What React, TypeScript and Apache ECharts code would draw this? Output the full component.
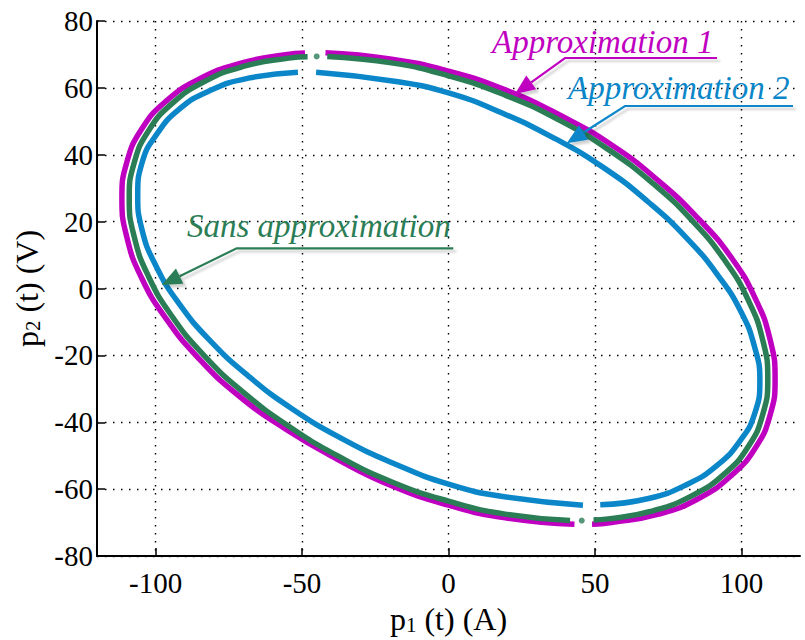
import React, { useEffect, useRef } from "react";
import * as echarts from "echarts";

// ---- data ----
const xTickValues = [-100, -50, 0, 50, 100];

// Approximation 1 (magenta): arc A runs from the top gap clockwise to the bottom gap,
// arc B from the bottom gap on round to the top gap.
const approx1ArcA: number[][] = [
  [-42, 70.5], [-19.4, 68.6], [0, 65], [19.4, 59.4], [38.1, 51.8], [55.7, 42.9], [71.7, 32.2],
  [85.4, 20.8], [96.6, 9.2], [104.8, -3.1], [109.8, -15.3], [111.5, -27], [109.8, -37.8],
  [104.8, -47.6], [96.6, -55.9], [85.4, -62.8], [71.7, -67.5], [55.7, -70], [49, -70.5],
];
const approx1ArcB: number[][] = [
  [43, -70.5], [19.4, -68.6], [0, -64.8], [-19.4, -59], [-38.1, -51], [-55.7, -42], [-71.7, -32],
  [-85.4, -20.8], [-96.6, -8.8], [-104.8, 3.2], [-109.8, 15.3], [-111.5, 27], [-109.8, 37.8],
  [-104.8, 47.6], [-96.6, 55.9], [-85.4, 62.5], [-71.7, 67.2], [-55.7, 69.9], [-49, 70.4],
];

// Sans approximation (green)
const sansArcA: number[][] = [
  [-41.4, 69.4], [-18.9, 67.4], [0, 63.6], [18.9, 58], [37.3, 50.6], [54.5, 41.6], [70.1, 31.2],
  [83.5, 20], [94.4, 8.3], [102.4, -3.6], [107.3, -15.5], [109, -27], [107.3, -37.6],
  [102.4, -47.2], [94.4, -55.3], [83.5, -61.8], [70.1, -66.4], [54.5, -68.9], [49.5, -69.2],
];
const sansArcB: number[][] = [
  [41.5, -69.4], [18.9, -67.4], [0, -63.6], [-18.9, -58], [-37.3, -50.3], [-54.5, -41.2],
  [-70.1, -31], [-83.5, -20], [-94.4, -8.3], [-102.4, 3.6], [-107.3, 15.5], [-109, 27],
  [-107.3, 37.6], [-102.4, 47.2], [-94.4, 55.3], [-83.5, 61.8], [-70.1, 66.4], [-54.5, 68.9],
  [-48.1, 69.3],
];
const sansGapDots: number[][] = [[-45, 69.4], [45.5, -69.4]];

// Approximation 2 (blue)
const approx2ArcA: number[][] = [
  [-45.2, 64.7], [-18.5, 62], [0, 58.5], [18.5, 52.4], [36.4, 44.8], [53.2, 36], [68.3, 25.8],
  [81.4, 15], [92.1, 3.8], [99.9, -7], [104.5, -17.5], [106.3, -27.5], [104.5, -37.5],
  [99.6, -45.5], [91.8, -52.8], [81.4, -58.6], [68.3, -62.8], [51.8, -64.7],
];
const approx2ArcB: number[][] = [
  [45.9, -64.8], [18.5, -62.2], [0, -58.5], [-18.5, -52.4], [-36.4, -44.9], [-53.2, -36.1],
  [-68.3, -26.2], [-81.4, -15.6], [-92.1, -4.4], [-99.9, 6.8], [-104.7, 17.8], [-106.1, 28],
  [-104.5, 38], [-99.7, 46], [-92.1, 53.5], [-81.4, 59.2], [-68.3, 62.9], [-51.4, 64.7],
];

const MAGENTA = "#C000C0";
const GREEN = "#2B7D56";
const BLUE = "#0B87C9";
const FONT = "Liberation Serif";

function arc(data: number[][], color: string) {
  return {
    type: "line",
    data,
    smooth: true,
    symbol: "none",
    lineStyle: { color, width: 5.5 },
    z: 2,
  };
}

const shadow = {
  shadowColor: "rgba(0,0,0,0.18)",
  shadowBlur: 2,
  shadowOffsetX: 3,
  shadowOffsetY: 3,
};

function annotation(
  color: string,
  text: string,
  tx: number,
  ty: number,
  ulx1: number,
  ulx2: number,
  uly: number,
  tipX: number,
  tipY: number
) {
  const dx = tipX - ulx1;
  const dy = tipY - uly;
  const len = Math.sqrt(dx * dx + dy * dy);
  const ux = dx / len;
  const uy = dy / len;
  const headLen = 20;
  const hw = 8.5;
  const bx = tipX - ux * headLen;
  const by = tipY - uy * headLen;
  const px = -uy;
  const py = ux;
  return [
    {
      type: "text",
      x: tx,
      y: ty,
      style: {
        text,
        fontSize: 33,
        fontStyle: "italic",
        fontFamily: FONT,
        fill: color,
        verticalAlign: "middle",
        align: "left",
      },
      z: 10,
    },
    {
      type: "polyline",
      shape: { points: [[ulx2, uly], [ulx1, uly], [bx, by]] },
      style: { stroke: color, lineWidth: 2.2, fill: null, ...shadow },
      z: 10,
    },
    {
      type: "polygon",
      shape: {
        points: [
          [tipX, tipY],
          [bx + px * hw, by + py * hw],
          [bx - px * hw, by - py * hw],
        ],
      },
      style: { fill: color, ...shadow },
      z: 10,
    },
  ];
}

export default function App() {
  const ref = useRef<HTMLDivElement>(null);

  useEffect(() => {
    if (!ref.current) return;
    const chart = echarts.init(ref.current, null, { renderer: "svg" });
    const axisFont = { fontFamily: FONT, fontSize: 29, color: "#000" };
    const splitStyle = { color: "#000", width: 1.4, type: [1.5, 6.5] };
    const nameRich = {
      a: { fontFamily: FONT, fontSize: 32, color: "#000", lineHeight: 35, verticalAlign: "bottom" },
      s: { fontFamily: FONT, fontSize: 21, color: "#000", lineHeight: 21, verticalAlign: "bottom" },
    };
    chart.setOption({
      animation: false,
      backgroundColor: "#fff",
      grid: {
        left: 97,
        right: 5,
        top: 21,
        bottom: 80,
      },
      xAxis: {
        type: "value",
        min: -120,
        max: 120,
        name: "{a|p}{s|1}{a| (t) (A)}",
        nameLocation: "middle",
        nameGap: 44,
        nameTextStyle: { fontFamily: FONT, fontSize: 32, rich: nameRich },
        axisLine: { onZero: false, lineStyle: { color: "#000", width: 2 } },
        axisTick: { inside: true, length: 8, lineStyle: { color: "#000", width: 1.5 }, customValues: xTickValues },
        axisLabel: { ...axisFont, margin: 12, customValues: xTickValues },
        splitLine: { show: true, lineStyle: splitStyle },
      },
      yAxis: {
        type: "value",
        min: -80,
        max: 80,
        interval: 20,
        name: "{a|p}{s|2}{a| (t) (V)}",
        nameLocation: "middle",
        nameGap: 50,
        nameRotate: 90,
        nameTextStyle: { fontFamily: FONT, fontSize: 32, rich: nameRich },
        axisLine: { onZero: false, lineStyle: { color: "#000", width: 2 } },
        axisTick: { inside: true, length: 8, lineStyle: { color: "#000", width: 1.5 } },
        axisLabel: { ...axisFont, margin: 4 },
        splitLine: { show: true, lineStyle: splitStyle },
      },
      series: [
        arc(approx1ArcA, MAGENTA),
        arc(approx1ArcB, MAGENTA),
        arc(sansArcA, GREEN),
        arc(sansArcB, GREEN),
        {
          type: "scatter",
          data: sansGapDots,
          symbolSize: 6,
          itemStyle: { color: GREEN },
          z: 3,
        },
        arc(approx2ArcA, BLUE),
        arc(approx2ArcB, BLUE),
      ],
      graphic: [
        ...annotation(MAGENTA, "Approximation 1", 492, 41.5, 565, 717, 58, 515, 94),
        ...annotation(BLUE, "Approximation 2", 568, 88, 625, 793, 106, 566.7, 143.3),
        ...annotation(GREEN, "Sans approximation", 187, 225.5, 236.7, 453.3, 248.3, 161.7, 285),
      ],
    });
    return () => chart.dispose();
  }, []);

  return (
    <div
      ref={ref}
      style={{ position: "fixed", left: 0, top: 0, width: 805, height: 640, background: "#fff" }}
    />
  );
}
